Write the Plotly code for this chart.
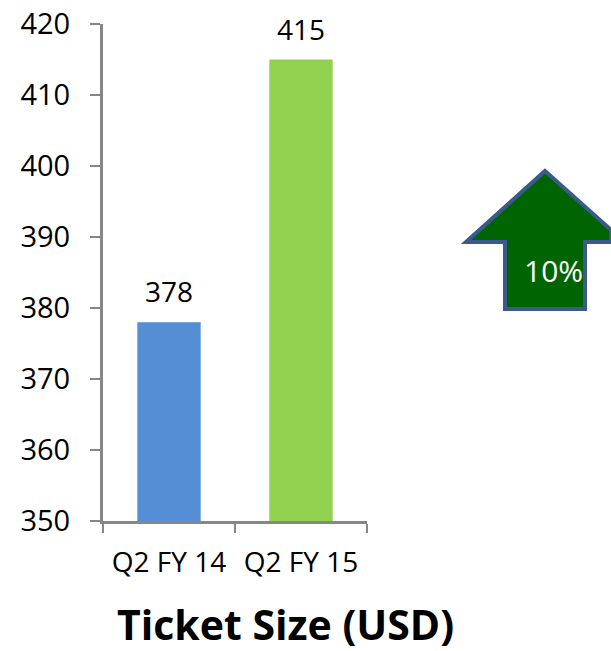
import plotly.graph_objects as go

categories = ["Q2 FY 14", "Q2 FY 15"]
values = [378, 415]
bar_colors = ["#558ED5", "#92D050"]
y_ticks = [350, 360, 370, 380, 390, 400, 410, 420]
growth_label = "10%"
title_text = "Ticket Size (USD)"

W, H = 611, 651
L, R, T, B = 103, 367, 24, 521

def px(x):
    return (x - L) / (R - L)

def py(y):
    return (B - y) / (B - T)

fig = go.Figure()
fig.add_trace(go.Bar(
    x=categories, y=values,
    marker=dict(color=bar_colors, line=dict(width=0)),
    width=0.48,
    cliponaxis=False,
))
for c, v in zip(categories, values):
    fig.add_annotation(x=c, y=v, xref="x", yref="y", text=str(v), showarrow=False,
                       xanchor="center", yanchor="middle", yshift=31,
                       font=dict(size=28, color="black", family="Open Sans"))

# arrow shape (paper coords from pixel positions)
pts = [(545, 171), (611, 230), (611, 242), (585, 242), (585, 309),
       (505, 309), (505, 242), (466, 242)]
path = "M " + " L ".join(f"{px(x):.4f},{py(y):.4f}" for x, y in pts) + " Z"
fig.add_shape(type="path", path=path, xref="paper", yref="paper",
              fillcolor="#006400", line=dict(color="#3A5A8C", width=4), layer="above")
fig.add_annotation(x=px(553), y=py(270), xref="paper", yref="paper",
                   xanchor="center", yanchor="middle",
                   text=growth_label, showarrow=False,
                   font=dict(size=30, color="white", family="Open Sans"))
fig.add_annotation(x=px(285), y=py(624), xref="paper", yref="paper",
                   xanchor="center", yanchor="middle",
                   text="<b>" + title_text + "</b>", showarrow=False,
                   font=dict(size=41, color="black", family="Open Sans"))

fig.update_layout(
    width=W, height=H,
    margin=dict(l=L, r=W - R, t=T, b=H - B),
    plot_bgcolor="white", paper_bgcolor="white",
    showlegend=False,
    xaxis=dict(showline=True, linecolor="#868686", linewidth=3,
               ticks="outside", tickcolor="#868686", ticklen=9, tickwidth=2,
               tickson="boundaries", ticklabelstandoff=14, automargin=False,
               tickfont=dict(size=28, family="Open Sans", color="black"),
               showgrid=False),
    yaxis=dict(range=[350, 420], showline=True, linecolor="#868686", linewidth=3,
               tickvals=y_ticks, ticktext=[str(t) for t in y_ticks],
               ticks="outside", tickcolor="#868686", ticklen=10, tickwidth=2,
               ticklabelstandoff=14, automargin=False,
               tickfont=dict(size=29, family="Open Sans", color="black"),
               showgrid=False, zeroline=False),
)
fig.write_html("out.html")
